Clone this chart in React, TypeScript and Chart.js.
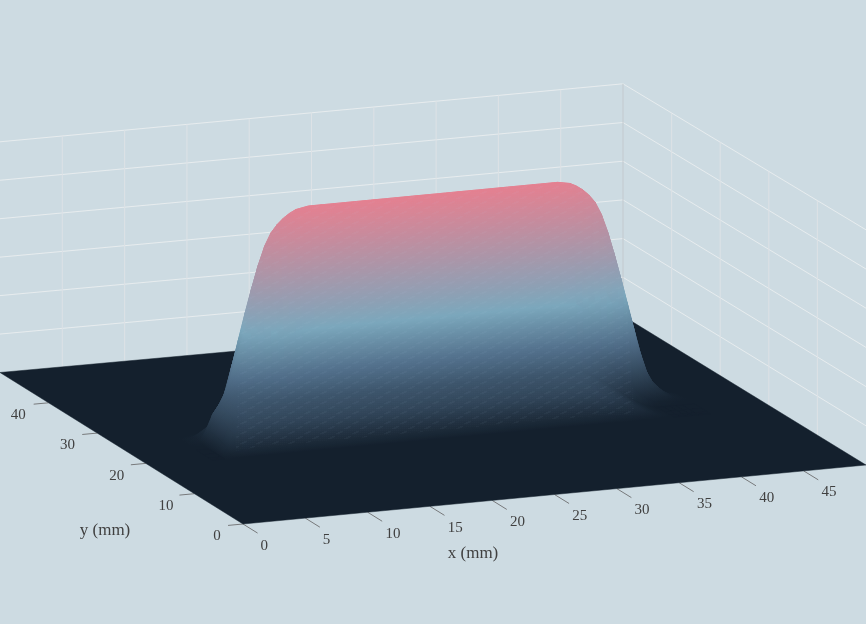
import React, { useEffect, useRef } from "react";
import Chart from "chart.js/auto";

// Surface samples: a steep sheet plus a low skirt in front of it
const xSamples = [5,6,6.5,7,7.5,8,8.5,9,9.5,10,10.5,11,11.5,12,12.5,13,13.5,14,15,16,17,18,19,20,21,22,23,24,25,26,27,28,29,30,31,32,33,34,35,36,36.5,37,37.5,38,38.5,39,39.5,40,40.5,41,41.5,42,42.5,43,43.5,44,45];
const xHeights = [0,0.07,0.17,0.3,0.48,0.78,1.3,1.95,2.6,3.25,3.86,4.42,4.88,5.2,5.4,5.55,5.66,5.74,5.8,5.8,5.8,5.8,5.8,5.8,5.8,5.8,5.8,5.8,5.8,5.8,5.8,5.8,5.8,5.8,5.8,5.8,5.8,5.8,5.8,5.74,5.66,5.55,5.4,5.2,4.88,4.42,3.86,3.25,2.6,1.95,1.3,0.78,0.48,0.3,0.17,0.07,0];
const xSkirt = [0,0,0.3,0.7,0.85,0.95,1,1,1,1,1,1,1,1,1,1,1,1,1,1,1,1,1,1,1,1,1,1,1,1,1,1,1,1,1,1,1,1,1,1,0.92,0.85,0.76,0.66,0.56,0.45,0.34,0.24,0.15,0.08,0.03,0,0,0,0,0,0];
const ySamples = [19.1,19.4,19.9,21,22.5,23.5,23.75,24,24.25,24.5,24.75,25,25.25,25.5,25.75,26,26.25,26.5,27,27.5,28];
const yFactors = [0,0,0,0,0,0.11,0.3,0.5,0.78,0.9,0.97,1,0.97,0.9,0.78,0.5,0.3,0.11,0.03,0.01,0];
const ySkirt = [0.03,0.2,0.75,0.9,1.1,1.1,1,0.9,0.67,0.3,0.08,0,0,0,0,0,0,0,0,0,0];

const xTicks = [0,5,10,15,20,25,30,35,40,45];
const yTicks = [0,10,20,30,40];
const zLevels = [1,2,3,4,5,6];
const X_MAX = 50;
const Y_MAX = 50;
const Z_MAX = 6;
const xTitle = "x (mm)";
const yTitle = "y (mm)";

const W = 866, H = 624;
const BG = "#cddbe2";
const FLOOR = "#14202d";
const TEXT = "#404040";
const FONT = '"Liberation Serif", serif';

function project(x: number, y: number, z: number) {
  const zs = 38.45 + 0.005 * x + 0.01 * (50 - y);
  return {
    x: 243 + 12.46 * x - 4.86 * y,
    y: 524 - 1.18 * x - 3.03 * y + 0.001 * x * y - zs * z,
  };
}

const stops: [number, number[]][] = [
  [0, [0x14, 0x20, 0x2d]],
  [1.57, [0x4f, 0x6c, 0x87]],
  [2.75, [0x7b, 0xa7, 0xbc]],
  [5.8, [0xe4, 0x80, 0x90]],
];
function colorAt(z: number) {
  const v = Math.max(0, Math.min(5.8, z));
  for (let i = 0; i < stops.length - 1; i++) {
    const [a, ca] = stops[i];
    const [b, cb] = stops[i + 1];
    if (v <= b) {
      const t = (v - a) / (b - a);
      const c = ca.map((u, k) => Math.round(u + (cb[k] - u) * t));
      return `rgb(${c[0]},${c[1]},${c[2]})`;
    }
  }
  return "rgb(228,128,144)";
}

function line(points: { x: number; y: number }[], color: string, width = 1) {
  return { type: "scatter", data: points, showLine: true, borderColor: color, borderWidth: width, pointRadius: 0, fill: false };
}

function quadGradient(ctx: CanvasRenderingContext2D, pts: { x: number; y: number }[], zs: number[]) {
  // the height as a plane over the screen, so the colour follows it in both directions
  const ux = (pts[1].x + pts[2].x - pts[0].x - pts[3].x) / 2;
  const uy = (pts[1].y + pts[2].y - pts[0].y - pts[3].y) / 2;
  const uz = (zs[1] + zs[2] - zs[0] - zs[3]) / 2;
  const vx = (pts[2].x + pts[3].x - pts[0].x - pts[1].x) / 2;
  const vy = (pts[2].y + pts[3].y - pts[0].y - pts[1].y) / 2;
  const vz = (zs[2] + zs[3] - zs[0] - zs[1]) / 2;
  const det = ux * vy - uy * vx;
  const cx = (pts[0].x + pts[1].x + pts[2].x + pts[3].x) / 4;
  const cy = (pts[0].y + pts[1].y + pts[2].y + pts[3].y) / 4;
  const cz = (zs[0] + zs[1] + zs[2] + zs[3]) / 4;
  const zmin = Math.min(...zs), zmax = Math.max(...zs);
  if (Math.abs(det) < 1e-6 || zmax - zmin < 1e-4) return colorAt(cz);
  const gx = (uz * vy - vz * uy) / det;
  const gy = (vz * ux - uz * vx) / det;
  const n = gx * gx + gy * gy;
  if (n < 1e-9) return colorAt(cz);
  const g = ctx.createLinearGradient(
    cx + (gx / n) * (zmin - cz), cy + (gy / n) * (zmin - cz),
    cx + (gx / n) * (zmax - cz), cy + (gy / n) * (zmax - cz)
  );
  for (let k = 0; k <= 4; k++) g.addColorStop(k / 4, colorAt(zmin + ((zmax - zmin) * k) / 4));
  return g;
}

const heightAt = (i: number, j: number) => xHeights[i] * yFactors[j] + xSkirt[i] * ySkirt[j];

function buildSurface(ctx: CanvasRenderingContext2D) {
  const out: any[] = [];
  const z = heightAt;
  // back to front: high y first, high x first
  for (let j = ySamples.length - 2; j >= 0; j--) {
    for (let i = xSamples.length - 2; i >= 0; i--) {
      const p00 = project(xSamples[i], ySamples[j], z(i, j));
      const p10 = project(xSamples[i + 1], ySamples[j], z(i + 1, j));
      const p11 = project(xSamples[i + 1], ySamples[j + 1], z(i + 1, j + 1));
      const p01 = project(xSamples[i], ySamples[j + 1], z(i, j + 1));
      const g = quadGradient(ctx, [p00, p10, p11, p01], [z(i, j), z(i + 1, j), z(i + 1, j + 1), z(i, j + 1)]);
      out.push({
        type: "scatter",
        data: [p00, p10, p11, p01, p00],
        showLine: true,
        fill: "shape",
        backgroundColor: g,
        borderColor: g,
        borderWidth: 0.8,
        pointRadius: 0,
      });
    }
  }
  return out;
}

// the faint woven look of the dense mesh, as a translucent tile over the front face
function meshTexture(ctx: CanvasRenderingContext2D) {
  const tile = document.createElement("canvas");
  tile.width = 16;
  tile.height = 10;
  const t = tile.getContext("2d")!;
  t.fillStyle = "rgba(205,225,245,0.04)";
  for (let k = 0; k < 2; k++) {
    const ox = k * 8, oy = k * 5;
    t.fillRect((ox + 0) % 16, (oy + 3) % 10, 4, 1);
    t.fillRect((ox + 2) % 16, (oy + 2) % 10, 4, 1);
    t.fillRect((ox + 4) % 16, (oy + 1) % 10, 3, 1);
  }
  t.fillStyle = "rgba(205,225,245,0.02)";
  for (let py = 0; py < 10; py += 2) for (let px = py % 4; px < 16; px += 2) t.fillRect(px, py, 1, 1);
  const pattern = ctx.createPattern(tile, "repeat");
  const top = yFactors.indexOf(1);
  const bottom = 1;
  const n = xSamples.length;
  const pts: { x: number; y: number }[] = [];
  for (let i = 8; i < n - 8; i++) pts.push(project(xSamples[i], ySamples[top], heightAt(i, top)));
  for (let i = n - 12; i >= 3; i--) pts.push(project(xSamples[i], ySamples[bottom], heightAt(i, bottom)));
  pts.push(pts[0]);
  return { type: "scatter", data: pts, showLine: true, fill: "shape", backgroundColor: pattern, borderWidth: 0, pointRadius: 0 };
}

const labelsPlugin = {
  id: "surfaceLabels",
  afterDraw(chart: any) {
    const { ctx, scales } = chart;
    const put = (text: string, px: number, py: number, size: number) => {
      ctx.font = `${size}px ${FONT}`;
      ctx.fillText(text, scales.x.getPixelForValue(px), scales.y.getPixelForValue(py));
    };
    ctx.save();
    ctx.fillStyle = TEXT;
    ctx.textAlign = "center";
    ctx.textBaseline = "middle";
    xTicks.forEach((t) => {
      const p = project(t, -5, 0);
      put(String(t), p.x + (t < 10 ? -3 : 1), p.y + 6.5, 15);
    });
    yTicks.forEach((t) => {
      const p = project(-2, t, 0);
      put(String(t), p.x - 3 - t * 0.06 + (t < 10 ? 2 : 0), p.y + 10, 15);
    });
    put(xTitle, 473, 554, 17);
    put(yTitle, 105, 531, 17);
    ctx.restore();
  },
};

export default function App() {
  const ref = useRef<HTMLCanvasElement>(null);
  useEffect(() => {
    document.body.style.margin = "0";
    document.body.style.background = BG;
    const canvas = ref.current!;
    const ctx = canvas.getContext("2d")!;
    const back: any[] = [];
    zLevels.forEach((z) => {
      back.push(line([project(0, Y_MAX, z), project(X_MAX, Y_MAX, z)], "rgba(238,240,241,0.8)"));
      back.push(line([project(X_MAX, Y_MAX, z), project(X_MAX, 0, z)], "rgba(238,240,241,0.8)"));
    });
    xTicks.slice(1).forEach((t) => back.push(line([project(t, Y_MAX, 0), project(t, Y_MAX, Z_MAX)], "#dde2e6")));
    yTicks.slice(1).forEach((t) => back.push(line([project(X_MAX, t, 0), project(X_MAX, t, Z_MAX)], "#dde2e6")));
    back.push(line([project(X_MAX, Y_MAX, 0), project(X_MAX, Y_MAX, Z_MAX)], "#c3c9ce"));
    const floor = {
      type: "scatter",
      data: [project(0, 0, 0), project(X_MAX, 0, 0), project(X_MAX, Y_MAX, 0), project(0, Y_MAX, 0), project(0, 0, 0)],
      showLine: true, fill: "shape", backgroundColor: FLOOR, borderColor: FLOOR, borderWidth: 0.5, pointRadius: 0,
    };
    const ticks: any[] = [];
    xTicks.forEach((t) => ticks.push(line([project(t, 0, 0), project(t, -3, 0)], "#77797b")));
    yTicks.forEach((t) => ticks.push(line([project(0, t, 0), project(-1.2, t, 0)], "#77797b")));
    // Chart.js paints the first dataset last, so the list runs front to back
    const datasets = [...back, ...ticks, floor, ...buildSurface(ctx), meshTexture(ctx)].reverse();
    const chart = new Chart(canvas, {
      type: "scatter",
      data: { datasets } as any,
      options: {
        responsive: false,
        animation: false,
        events: [],
        layout: { padding: 0 },
        scales: {
          x: { type: "linear", min: 0, max: W, display: false },
          y: { type: "linear", min: 0, max: H, reverse: true, display: false },
        },
        plugins: { legend: { display: false }, tooltip: { enabled: false }, title: { display: false } },
      } as any,
      plugins: [labelsPlugin] as any,
    });
    return () => chart.destroy();
  }, []);
  return <canvas ref={ref} width={W} height={H} style={{ display: "block", background: BG }} />;
}
